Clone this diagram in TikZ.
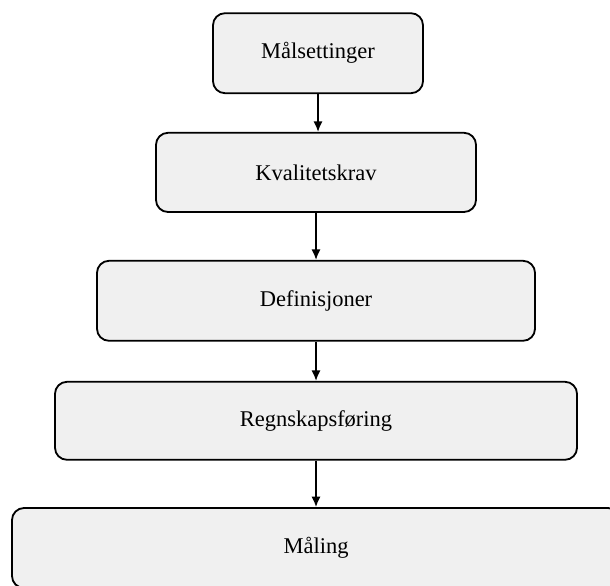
\documentclass[tikz,border=0pt]{standalone}
\usepackage{fontspec}
\setmainfont{Liberation Serif}
\usetikzlibrary{arrows.meta}

\definecolor{boxgray}{HTML}{F0F0F0}
\tikzset{
  levelbox/.style={draw=black,line width=1.3pt,fill=boxgray,rounded corners=0.3cm,
    inner sep=0pt,font=\fontsize{16}{19}\selectfont},
  levelarrow/.style={-{Latex[length=2.6mm,width=2.3mm]},line width=1.3pt},
}

\begin{document}
\begin{tikzpicture}[]
    % Frame
    \path[use as bounding box,clip] (0,0) rectangle (15.25,-14.625);

    % Levels
    \node (maal) [levelbox,minimum width=5.25cm,minimum height=2.0cm] at (7.95,-1.33) {Målsettinger};
    \node (krav) [levelbox,minimum width=8.0cm,minimum height=1.98cm] at (7.9,-4.31) {Kvalitetskrav};
    \node (def) [levelbox,minimum width=10.95cm,minimum height=2.0cm] at (7.9,-7.52) {Definisjoner};
    \node (regn) [levelbox,minimum width=13.05cm,minimum height=1.95cm] at (7.9,-10.52) {Regnskapsføring};
    \node (maal2) [levelbox,minimum width=15.2cm,minimum height=2.0cm] at (7.9,-13.7) {Måling};

    % Arrows
    \draw [levelarrow] (maal.south) -- (maal.south |- krav.north);
    \draw [levelarrow] (krav) -- (def);
    \draw [levelarrow] (def) -- (regn);
    \draw [levelarrow] (regn) -- (maal2);

\end{tikzpicture}
\end{document}
